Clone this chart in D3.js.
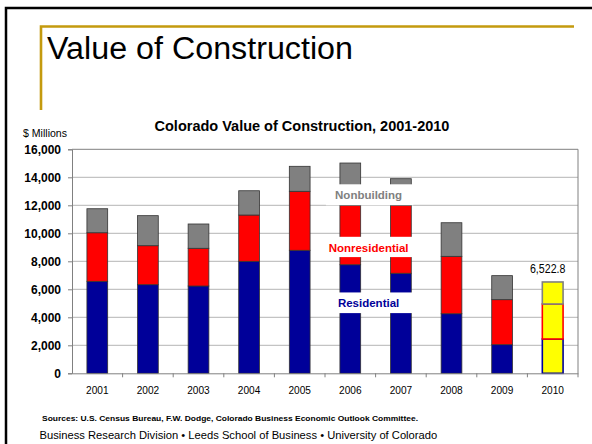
<!DOCTYPE html>
<html>
<head>
<meta charset="utf-8">
<script src="https://cdn.jsdelivr.net/npm/d3@7.9.0/dist/d3.min.js"></script>
<style>
  body { margin: 0; background: #fff; }
  svg { display: block; }
</style>
</head>
<body>
<svg id="chart"></svg>
<script>
const years = ["2001", "2002", "2003", "2004", "2005", "2006", "2007", "2008", "2009", "2010"];
const residential = [6570, 6330, 6235, 8000, 8785, 7755, 7145, 4255, 2045, 2450];
const nonresidential = [3470, 2785, 2695, 3305, 4215, 4245, 4855, 4100, 3215, 2500];
const nonbuilding = [1715, 2145, 1735, 1735, 1785, 3020, 1900, 2400, 1715, 1572.8];
const yTicks = [0, 2000, 4000, 6000, 8000, 10000, 12000, 14000, 16000];
const seriesNames = ["Residential", "Nonresidential", "Nonbuilding"];
const seriesColors = ["#000099", "#ff0000", "#808080"];
const forecastYear = "2010";
const forecastLabel = "6,522.8";

const W = 592, H = 444;
const margin = { top: 149.3, right: 14, bottom: 70.7, left: 72 };
const narrowFont = "'Liberation Sans', Arial, sans-serif";

const svg = d3.select("#chart").attr("width", W).attr("height", H);

// slide frame
svg.append("rect")
    .attr("x", 6).attr("y", 8)
    .attr("width", W + 10).attr("height", H + 10)
    .attr("fill", "none").attr("stroke", "#000").attr("stroke-width", 2.5);

// gold title rule
svg.append("path")
    .attr("d", "M41,110 L41,26.5 L574,26.5")
    .attr("fill", "none").attr("stroke", "#c49a0e").attr("stroke-width", 2.6);

svg.append("text")
    .attr("x", 47).attr("y", 58.5)
    .attr("textLength", 306).attr("lengthAdjust", "spacingAndGlyphs")
    .style("font-family", "'Liberation Sans', Arial, sans-serif")
    .style("font-size", "31px")
    .text("Value of Construction");

const x = d3.scaleBand()
    .domain(years)
    .range([margin.left, W - margin.right])
    .paddingInner(0.59)
    .paddingOuter(0.295);

const y = d3.scaleLinear()
    .domain([0, 16000])
    .range([H - margin.bottom, margin.top]);

const table = years.map((yr, i) => ({
    year: yr,
    Residential: residential[i],
    Nonresidential: nonresidential[i],
    Nonbuilding: nonbuilding[i]
}));
const stacked = d3.stack().keys(seriesNames)(table);

// gridlines
svg.append("g")
    .selectAll("line")
    .data(yTicks.slice(1, -1))
    .join("line")
    .attr("x1", margin.left).attr("x2", W - margin.right)
    .attr("y1", d => y(d)).attr("y2", d => y(d))
    .attr("stroke", "#b4b4b4").attr("stroke-width", 1);

// plot border top/right
svg.append("path")
    .attr("d", `M${margin.left},${y(16000)} L${W - margin.right},${y(16000)} L${W - margin.right},${y(0)}`)
    .attr("fill", "none").attr("stroke", "#808080").attr("stroke-width", 1);

// bars
stacked.forEach((layer, si) => {
    svg.append("g")
        .selectAll("rect")
        .data(layer)
        .join("rect")
        .attr("x", d => x(d.data.year))
        .attr("width", x.bandwidth())
        .attr("y", d => y(d[1]))
        .attr("height", d => y(d[0]) - y(d[1]))
        .attr("fill", d => d.data.year === forecastYear ? "#ffff00" : seriesColors[si])
        .attr("stroke", d => d.data.year === forecastYear ? seriesColors[si] : "#333")
        .attr("stroke-width", d => d.data.year === forecastYear ? 1.6 : 0.8);
});

// axes
const yAxis = svg.append("g")
    .attr("transform", `translate(${margin.left},0)`)
    .call(d3.axisLeft(y).tickValues(yTicks).tickFormat(d3.format(",")).tickSize(4).tickPadding(7));
yAxis.select(".domain").attr("stroke", "#808080");
yAxis.selectAll(".tick line").attr("stroke", "#808080");
yAxis.selectAll("text")
    .style("font-family", "'Liberation Sans', Arial, sans-serif")
    .style("font-size", "12px")
    .style("font-weight", "bold")
    .attr("fill", "#000");

const xAxis = svg.append("g")
    .attr("transform", `translate(0,${y(0)})`)
    .call(d3.axisBottom(x).tickSize(0).tickPadding(13));
xAxis.select(".domain").attr("stroke", "#808080");
xAxis.selectAll("text")
    .attr("textLength", 22.5).attr("lengthAdjust", "spacingAndGlyphs")
    .style("font-family", narrowFont)
    .style("font-size", "11.5px")
    .attr("fill", "#000");
// ticks between categories
xAxis.selectAll(".sep")
    .data(years)
    .join("line")
    .attr("class", "sep")
    .attr("x1", d => x(d) + x.bandwidth() / 2 + x.step() / 2)
    .attr("x2", d => x(d) + x.bandwidth() / 2 + x.step() / 2)
    .attr("y1", 0).attr("y2", 4)
    .attr("stroke", "#808080");

// in-chart series labels with white backing boxes
const labelSpots = [
    { name: "Nonbuilding", color: "#808080", base: 12480, lo: 12000, hi: 13500 },
    { name: "Nonresidential", color: "#ff0000", base: 8700, lo: 8300, hi: 9750 },
    { name: "Residential", color: "#000099", base: 4760, lo: 4300, hi: 5775 }
];
const boxX0 = x("2006") - 14;
const boxX1 = x("2007") + x.bandwidth() + 2;
svg.append("g")
    .selectAll("rect")
    .data(labelSpots)
    .join("rect")
    .attr("x", boxX0).attr("width", boxX1 - boxX0)
    .attr("y", d => y(d.hi)).attr("height", d => y(d.lo) - y(d.hi))
    .attr("fill", "#fff");
svg.append("g")
    .selectAll("text")
    .data(labelSpots)
    .join("text")
    .attr("x", (boxX0 + boxX1) / 2 - 1)
    .attr("y", d => y(d.base))
    .attr("text-anchor", "middle")
    .attr("fill", d => d.color)
    .style("font-family", "'Liberation Sans', Arial, sans-serif")
    .style("font-size", "11.5px")
    .style("font-weight", "bold")
    .text(d => d.name);

// forecast total label
const fi = years.indexOf(forecastYear);
svg.append("text")
    .attr("x", x(forecastYear) + x.bandwidth() / 2 - 5)
    .attr("y", y(residential[fi] + nonresidential[fi] + nonbuilding[fi]) - 9)
    .attr("text-anchor", "middle")
    .attr("textLength", 35.5).attr("lengthAdjust", "spacingAndGlyphs")
    .style("font-family", narrowFont)
    .style("font-size", "12.5px")
    .text(forecastLabel);

// chart title and unit
svg.append("text")
    .attr("x", 302).attr("y", 131)
    .attr("text-anchor", "middle")
    .style("font-family", "'Liberation Sans', Arial, sans-serif")
    .style("font-size", "14.5px")
    .style("font-weight", "bold")
    .text("Colorado Value of Construction, 2001-2010");

svg.append("text")
    .attr("x", 23).attr("y", 137)
    .attr("textLength", 44).attr("lengthAdjust", "spacingAndGlyphs")
    .style("font-family", narrowFont)
    .style("font-size", "11.5px")
    .text("$ Millions");

// footers
svg.append("text")
    .attr("x", 42).attr("y", 421)
    .attr("textLength", 376).attr("lengthAdjust", "spacingAndGlyphs")
    .style("font-family", "'Liberation Sans', Arial, sans-serif")
    .style("font-size", "7.8px")
    .style("font-weight", "bold")
    .text("Sources: U.S. Census Bureau, F.W. Dodge, Colorado Business Economic Outlook Committee.");

svg.append("text")
    .attr("x", 39.5).attr("y", 439)
    .style("font-family", "'Liberation Sans', Arial, sans-serif")
    .style("font-size", "11.2px")
    .text("Business Research Division \u2022 Leeds School of Business \u2022 University of Colorado");
</script>
</body>
</html>
